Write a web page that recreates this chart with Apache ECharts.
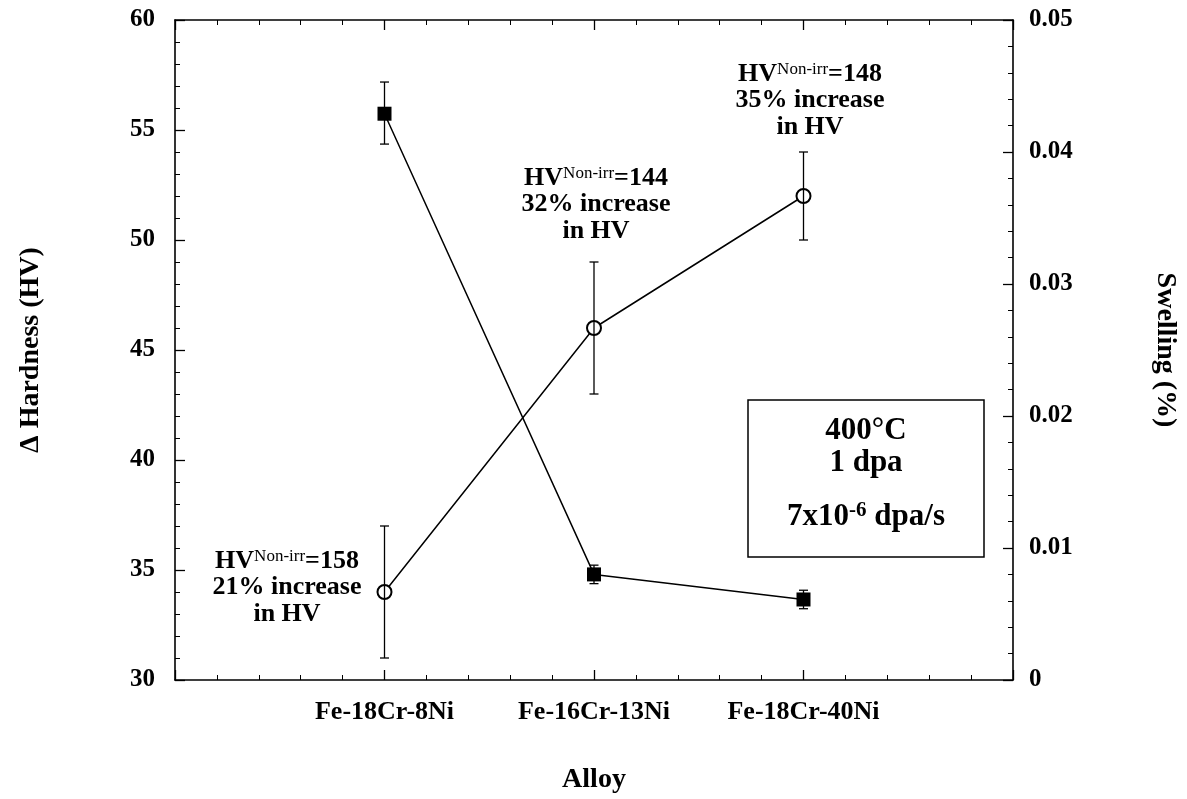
<!DOCTYPE html>
<html>
<head>
<meta charset="utf-8">
<script src="https://cdn.jsdelivr.net/npm/echarts@6/dist/echarts.min.js"></script>
<style>
  html, body { margin: 0; padding: 0; background: #fff; }
  #chart { width: 1187px; height: 799px; }
</style>
</head>
<body>
<div id="chart"></div>
<script>
// values
const alloys = ['Fe-18Cr-8Ni', 'Fe-16Cr-13Ni', 'Fe-18Cr-40Ni']
const alloyPos = [1, 2, 3]
const hardness = [34, 46, 52]
const hardnessLow = [31, 43, 50]
const hardnessHigh = [37, 49, 54]
const swelling = [0.0429, 0.0080, 0.0061]
const swellingLow = [0.0406, 0.0073, 0.0054]
const swellingHigh = [0.0453, 0.0087, 0.0068]
const hvNonIrr = [158, 144, 148]
const hvIncrease = [21, 32, 35]

const FONT = '"Liberation Serif", "Times New Roman", serif'
const black = '#000'

const chart = echarts.init(document.getElementById('chart'), null, { renderer: 'canvas' })

function errorBars(params, api) {
  const x = api.value(0)
  const lo = api.coord([x, api.value(1)])
  const hi = api.coord([x, api.value(2)])
  const w = 4.5
  const st = { stroke: black, lineWidth: 1.3 }
  return {
    type: 'group',
    children: [
      { type: 'line', shape: { x1: lo[0], y1: lo[1], x2: hi[0], y2: hi[1] }, style: st },
      { type: 'line', shape: { x1: lo[0] - w, y1: lo[1], x2: lo[0] + w, y2: lo[1] }, style: st },
      { type: 'line', shape: { x1: hi[0] - w, y1: hi[1], x2: hi[0] + w, y2: hi[1] }, style: st }
    ]
  }
}

// fresh objects for every axis so nothing is shared
function frame() {
  return {
    axisLine: { show: true, onZero: false, lineStyle: { color: black, width: 1.6 } },
    axisTick: { show: true, inside: true, length: 10, lineStyle: { color: black, width: 1.3 } },
    minorTick: { show: true, splitNumber: 5, length: 5, lineStyle: { color: black, width: 1 } },
    splitLine: { show: false },
    minorSplitLine: { show: false }
  }
}
function labels(extra) {
  return Object.assign({ color: black, fontFamily: FONT, fontWeight: 'bold', fontSize: 25 }, extra)
}
const nameStyle = { color: black, fontFamily: FONT, fontWeight: 'bold', fontSize: 28 }

const richAnno = {
  b: { fontFamily: FONT, fontWeight: 'bold', fontSize: 26, lineHeight: 26.5, fill: black },
  s: { fontFamily: FONT, fontWeight: 'normal', fontSize: 17, lineHeight: 10, verticalAlign: 'top', fill: black }
}
function annoText(i) {
  return '{b|HV}{s|Non-irr}{b|=' + hvNonIrr[i] + '}\n{b|' + hvIncrease[i] + '% increase}\n{b|in HV}'
}
const annoPlace = [[287, 548], [596, 165], [810, 61]]

chart.setOption({
  animation: false,
  backgroundColor: '#fff',
  grid: { left: 175, right: 174, top: 20, bottom: 115, containLabel: false },
  xAxis: [{
    type: 'value', min: 0, max: 4, interval: 1, position: 'bottom',
    name: 'Alloy', nameLocation: 'middle', nameGap: 86, nameTextStyle: nameStyle,
    ...frame(),
    axisLabel: labels({
      fontSize: 26, margin: 19,
      formatter: v => alloys[alloyPos.indexOf(v)] || ''
    })
  }, {
    type: 'value', min: 0, max: 4, interval: 1, position: 'top',
    ...frame(),
    axisLabel: { show: false }
  }],
  yAxis: [{
    type: 'value', min: 30, max: 60, interval: 5, position: 'left',
    name: 'Δ Hardness (HV)', nameLocation: 'middle', nameGap: 130, nameRotate: 90,
    nameTextStyle: nameStyle,
    ...frame(),
    axisLabel: labels({ margin: 20 })
  }, {
    type: 'value', min: 0, max: 0.05, interval: 0.01, position: 'right',
    name: 'Swelling (%)', nameLocation: 'middle', nameGap: 138, nameRotate: -90,
    nameTextStyle: nameStyle,
    ...frame(),
    axisLabel: labels({ margin: 16, formatter: v => v === 0 ? '0' : v.toFixed(2) })
  }],
  series: [{
    name: 'hardness', type: 'line',
    data: alloyPos.map((x, i) => [x, hardness[i]]),
    symbol: 'emptyCircle', symbolSize: 14,
    lineStyle: { color: black, width: 1.5 },
    itemStyle: { color: black, borderColor: black, borderWidth: 1.3 },
    z: 5
  }, {
    name: 'hardnessErr', type: 'custom',
    data: alloyPos.map((x, i) => [x, hardnessLow[i], hardnessHigh[i]]),
    renderItem: errorBars, z: 6
  }, {
    name: 'swelling', type: 'line', yAxisIndex: 1,
    data: alloyPos.map((x, i) => [x, swelling[i]]),
    symbol: 'rect', symbolSize: 14,
    lineStyle: { color: black, width: 1.5 },
    itemStyle: { color: black },
    z: 3
  }, {
    name: 'swellingErr', type: 'custom', yAxisIndex: 1,
    data: alloyPos.map((x, i) => [x, swellingLow[i], swellingHigh[i]]),
    renderItem: errorBars, z: 2
  }],
  graphic: [
    ...annoPlace.map((p, i) => ({
      type: 'text', x: p[0], y: p[1], z: 10,
      style: { text: annoText(i), align: 'center', verticalAlign: 'top', rich: richAnno, fill: black }
    })),
    {
      type: 'rect', shape: { x: 748, y: 400, width: 236, height: 157 },
      style: { fill: '#fff', stroke: black, lineWidth: 1.5 }, z: 5
    },
    {
      type: 'text', x: 866, y: 431, z: 6,
      style: { text: '400°C', align: 'center', verticalAlign: 'middle', fill: black,
        font: 'bold 31px ' + FONT }
    },
    {
      type: 'text', x: 866, y: 463, z: 6,
      style: { text: '1 dpa', align: 'center', verticalAlign: 'middle', fill: black,
        font: 'bold 31px ' + FONT }
    },
    {
      type: 'text', x: 866, y: 500, z: 6,
      style: {
        text: '{b|7x10}{s|-6}{b| dpa/s}', align: 'center', verticalAlign: 'top', fill: black,
        rich: {
          b: { fontFamily: FONT, fontWeight: 'bold', fontSize: 31, lineHeight: 34, fill: black },
          s: { fontFamily: FONT, fontWeight: 'bold', fontSize: 21, lineHeight: 14, verticalAlign: 'top', fill: black }
        }
      }
    }
  ]
})
</script>
</body>
</html>
